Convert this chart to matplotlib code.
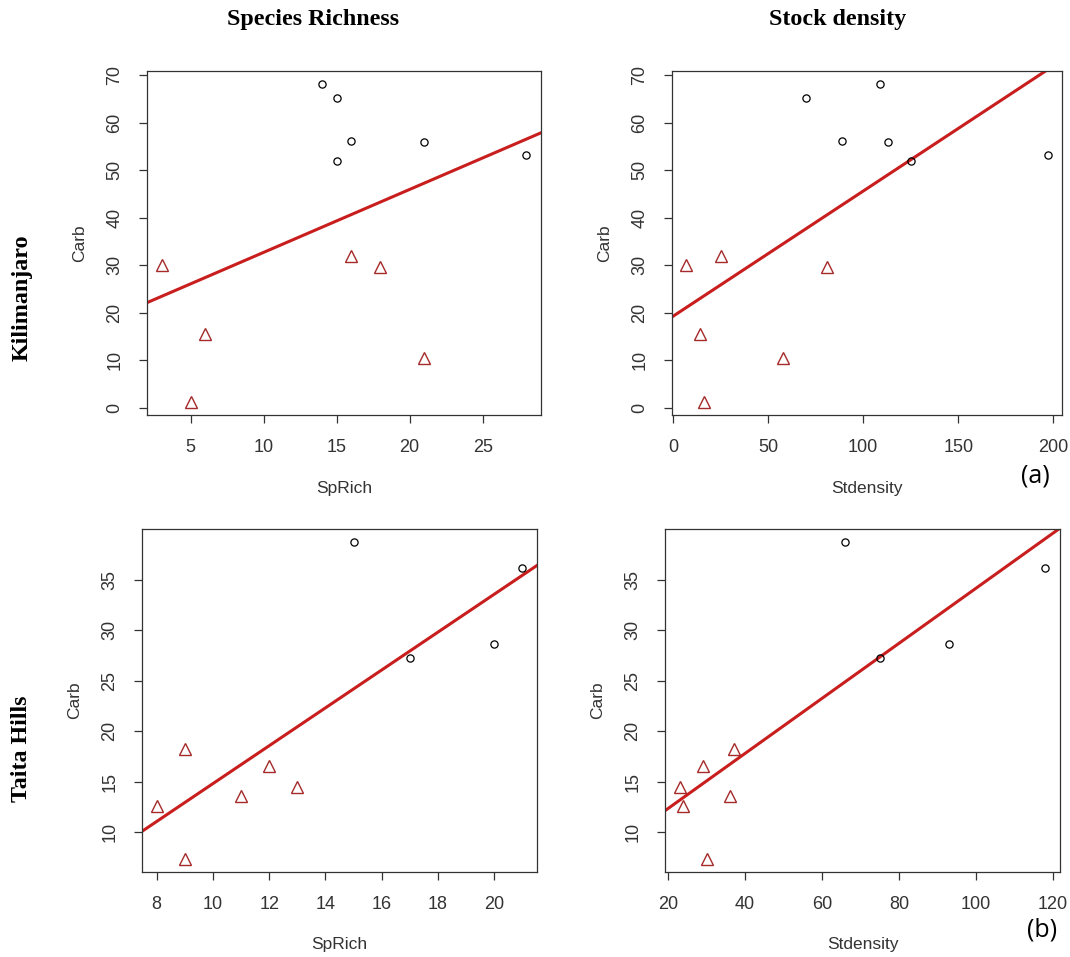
import numpy as np
import matplotlib
matplotlib.use("Agg")
import matplotlib.pyplot as plt

# Kilimanjaro plots (closed = circles, open = triangles)
kili_sprich_c = [14, 15, 16, 15, 21, 28]
kili_stdens_c = [109, 70, 89, 125, 113, 197]
kili_carb_c = [68.2, 65.2, 56.2, 52.0, 55.9, 53.2]
kili_sprich_t = [3, 5, 6, 16, 18, 21]
kili_stdens_t = [7, 16, 14, 25, 81, 58]
kili_carb_t = [30.1, 1.2, 15.5, 32.0, 29.6, 10.5]

# Taita Hills plots
taita_sprich_c = [15, 17, 20, 21]
taita_stdens_c = [66, 75, 93, 118]
taita_carb_c = [38.8, 27.3, 28.7, 36.2]
taita_sprich_t = [8, 9, 9, 11, 12, 13]
taita_stdens_t = [24, 37, 30, 36, 29, 23]
taita_carb_t = [12.6, 18.2, 7.3, 13.6, 16.6, 14.5]

kili_yticks = [0, 10, 20, 30, 40, 50, 60, 70]
taita_yticks = [10, 15, 20, 25, 30, 35]

W, H = 1070, 957
fig = plt.figure(figsize=(W / 100, H / 100), dpi=100)
fig.patch.set_facecolor("white")

sans = "Liberation Sans"
serif = "Liberation Serif"
axcol = "#333333"
tri_col = "#A52A2A"
line_col = "#C81E1E"


def rlim(vals):
    # R style axis range: data range plus 4% each side
    lo, hi = min(vals), max(vals)
    r = hi - lo
    return lo - 0.04 * r, hi + 0.04 * r


def panel(box, xc, yc, xt, yt, xlab, xticks, yticks):
    l, t, r, b = box
    ax = fig.add_axes([l / W, 1 - b / H, (r - l) / W, (b - t) / H])
    xs = xc + xt
    ys = yc + yt
    ax.set_xlim(*rlim(xs))
    ax.set_ylim(*rlim(ys))
    m, c = np.polyfit(xs, ys, 1)
    ax.axline((0, c), slope=m, color=line_col, lw=2.2, zorder=2)
    ax.plot(xc, yc, "o", ms=5.2, mfc="none", mec="black", mew=0.9, zorder=3)
    ax.plot(xt, yt, "^", ms=8.5, mfc="none", mec=tri_col, mew=1.0, zorder=3)
    ax.set_xticks(xticks)
    ax.set_yticks(yticks)
    ax.tick_params(direction="out", length=6, width=0.9, color=axcol,
                   labelsize=13, labelcolor=axcol, pad=11)
    ax.tick_params(axis="y", labelrotation=90)
    for lbl in ax.get_xticklabels() + ax.get_yticklabels():
        lbl.set_fontfamily(sans)
    for lbl in ax.get_yticklabels():
        lbl.set_va("center")
    for s in ax.spines.values():
        s.set_color(axcol)
        s.set_linewidth(0.9)
    pw = r - l
    ph = b - t
    ax.text(0.5, -73 / ph, xlab, transform=ax.transAxes, ha="center",
            va="center", fontsize=12.5, color=axcol, family=sans)
    ax.text(-67 / pw, 0.5, "Carb", transform=ax.transAxes, ha="center",
            va="center", rotation=90, fontsize=12.5, color=axcol, family=sans)
    return ax


panel((147, 71, 541, 415), kili_sprich_c, kili_carb_c, kili_sprich_t,
      kili_carb_t, "SpRich", [5, 10, 15, 20, 25], kili_yticks)
panel((672, 71, 1062, 415), kili_stdens_c, kili_carb_c, kili_stdens_t,
      kili_carb_t, "Stdensity", [0, 50, 100, 150, 200], kili_yticks)
panel((142, 529, 537, 872), taita_sprich_c, taita_carb_c, taita_sprich_t,
      taita_carb_t, "SpRich", [8, 10, 12, 14, 16, 18, 20], taita_yticks)
panel((665, 529, 1060, 872), taita_stdens_c, taita_carb_c, taita_stdens_t,
      taita_carb_t, "Stdensity", [20, 40, 60, 80, 100, 120], taita_yticks)

# column and row headings
head = dict(fontsize=17.3, fontweight="bold", family=serif,
            ha="center", va="center")
fig.text(313 / W, 1 - 19 / H, "Species Richness", **head)
fig.text(838 / W, 1 - 19 / H, "Stock density", **head)
fig.text(22 / W, 1 - 298 / H, "Kilimanjaro", rotation=90, **head)
fig.text(22 / W, 1 - 749 / H, "Taita Hills", rotation=90, **head)
fig.text(1035 / W, 1 - 476 / H, "(a)", ha="center", va="center",
         fontsize=18, family="Open Sans")
fig.text(1042 / W, 1 - 930 / H, "(b)", ha="center", va="center",
         fontsize=18, family="Open Sans")

fig.savefig("out.png", dpi=100)
